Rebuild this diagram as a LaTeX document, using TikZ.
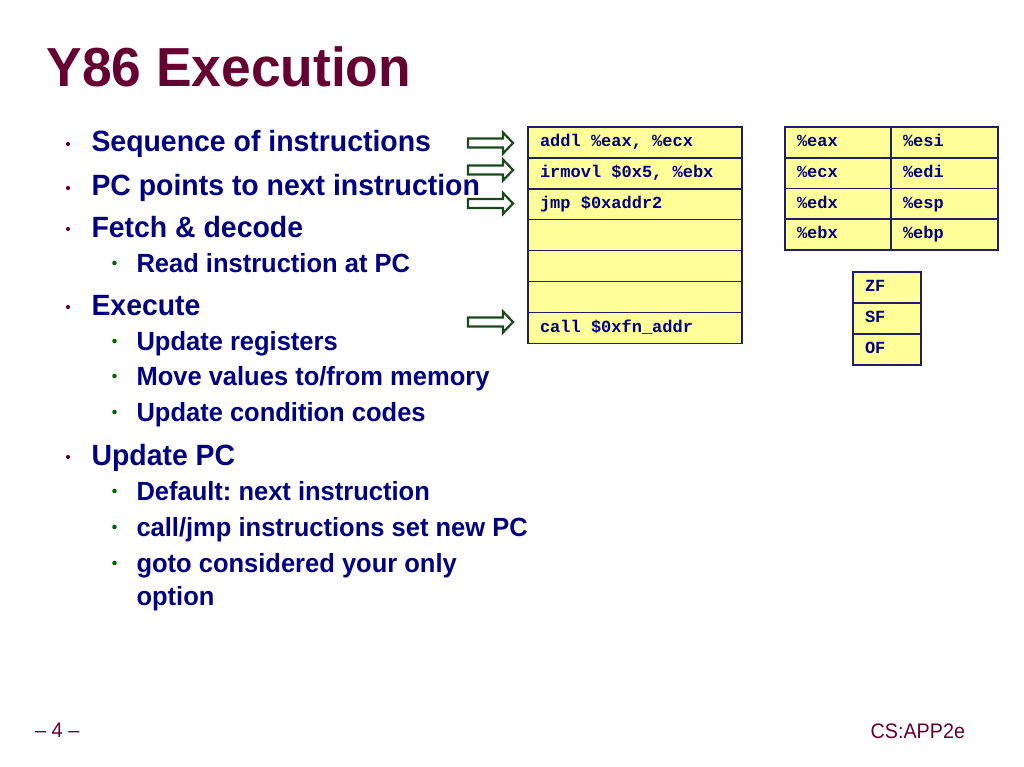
\documentclass[tikz,border=0pt]{standalone}
\usepackage{fontspec}
\usepackage{graphicx}
\setmainfont{Liberation Sans}
\newfontfamily\monof{Liberation Mono}
\usetikzlibrary{calc}
\definecolor{titlec}{HTML}{660033}
\definecolor{navyc}{HTML}{000080}
\definecolor{greenb}{HTML}{006600}
\definecolor{tabline}{HTML}{202060}
\definecolor{tabfill}{HTML}{FFFF99}
\definecolor{arrowc}{HTML}{1A4A1A}
\newcommand{\sx}[1]{\scalebox{0.97}[1]{#1}}
\newcommand{\msp}{\hbox to 0.6em{}}
\tikzset{
  txt/.style={anchor=base west, inner sep=0pt, outer sep=0pt},
  titletxt/.style={txt, text=titlec, font=\fontsize{55}{60}\selectfont\bfseries},
  lone/.style={txt, text=navyc, font=\fontsize{29.3}{32}\selectfont\bfseries},
  ltwo/.style={txt, text=navyc, font=\fontsize{26.3}{30}\selectfont\bfseries},
  foot/.style={inner sep=0pt, outer sep=0pt, text=titlec, font=\fontsize{21}{24}\selectfont},
  cell/.style={draw=tabline, line width=1.6pt, fill=tabfill, anchor=north west,
    inner xsep=12pt, inner ysep=0pt, outer sep=0pt, text height=12pt, text depth=3.5pt,
    align=left, text=navyc, font=\monof\bfseries\fontsize{17}{17}\selectfont},
  pcarrow/.style={draw=arrowc, line width=2.2pt, fill=white, line join=miter},
  dotone/.style={circle, fill=titlec, inner sep=0pt, minimum size=4.2pt},
  dottwo/.style={circle, fill=greenb, inner sep=0pt, minimum size=4.6pt},
}
\begin{document}
\frenchspacing
\begin{tikzpicture}[x=1pt,y=-1pt]
\useasboundingbox[fill=white] (0,0) rectangle (1024,767);

% title
\node[titletxt] (title) at (46.5,87) {\sx{Y86 Execution}};

% arrows (PC markers)
\foreach \y in {143,170,203.5,322}{
  \draw[pcarrow] (468,\y-4.5) -- (503,\y-4.5) -- (503,\y-10.5) -- (513,\y)
     -- (503,\y+10.5) -- (503,\y+4.5) -- (468,\y+4.5) -- cycle;
}

% level-one bullets
\node[dotone] (d1) at (68,144) {};
\node[dotone] (d2) at (68,188) {};
\node[dotone] (d3) at (68,229) {};
\node[dotone] (d4) at (68,307) {};
\node[dotone] (d5) at (68,457) {};
\node[lone] (b1) at (91.5,152) {\sx{Sequence of instructions}};
\node[lone] (b2) at (91.5,196) {\sx{PC points to next instruction}};
\node[lone] (b3) at (91.5,237) {\sx{Fetch \& decode}};
\node[lone] (b4) at (91.5,315) {\sx{Execute}};
\node[lone] (b5) at (91.5,465) {\sx{Update PC}};

% level-two bullets
\node[dottwo] (e1) at (114.5,263) {};
\node[dottwo] (e2) at (114.5,341) {};
\node[dottwo] (e3) at (114.5,376) {};
\node[dottwo] (e4) at (114.5,412) {};
\node[dottwo] (e5) at (114.5,491) {};
\node[dottwo] (e6) at (114.5,527) {};
\node[dottwo] (e7) at (114.5,563) {};
\node[ltwo] (s1) at (136.5,272) {\sx{Read instruction at PC}};
\node[ltwo] (s2) at (136.5,350) {\sx{Update registers}};
\node[ltwo] (s3) at (136.5,385) {\sx{Move values to/from memory}};
\node[ltwo] (s4) at (136.5,421) {\sx{Update condition codes}};
\node[ltwo] (s5) at (136.5,500) {\sx{Default: next instruction}};
\node[ltwo] (s6) at (136.5,536) {\sx{call/jmp instructions set new PC}};
\node[ltwo] (s7) at (136.5,572) {\sx{goto considered your only}};
\node[ltwo] (s8) at (136.5,605) {\sx{option}};

% memory
\begin{scope}[every node/.style={cell, text width=190pt, minimum height=30.9pt}]
\node (m0) at (528,127)   {addl\msp\%eax,\msp\%ecx};
\node (m1) at (528,157.9) {irmovl\msp\$0x5,\msp\%ebx};
\node (m2) at (528,188.8) {jmp\msp\$0xaddr2};
\node (m3) at (528,219.7) {};
\node (m4) at (528,250.6) {};
\node (m5) at (528,281.5) {};
\node (m6) at (528,312.4) {call\msp\$0xfn\_addr};
\end{scope}

% registers
\begin{scope}[every node/.style={cell, text width=82pt, minimum height=30.75pt}]
\node (r0) at (785,127)    {\%eax};
\node (r1) at (785,157.75) {\%ecx};
\node (r2) at (785,188.5)  {\%edx};
\node (r3) at (785,219.25) {\%ebx};
\end{scope}
\begin{scope}[every node/.style={cell, text width=83pt, minimum height=30.75pt}]
\node (r4) at (891,127)    {\%esi};
\node (r5) at (891,157.75) {\%edi};
\node (r6) at (891,188.5)  {\%esp};
\node (r7) at (891,219.25) {\%ebp};
\end{scope}

% condition codes
\begin{scope}[every node/.style={cell, text width=44pt, minimum height=31pt}]
\node (f0) at (853,272) {ZF};
\node (f1) at (853,303) {SF};
\node (f2) at (853,334) {OF};
\end{scope}

% footer
\node[foot, anchor=base west] (pg) at (35,737) {\scalebox{0.95}[1]{– 4 –}};
\node[foot, anchor=base east] (cs) at (965,738) {\scalebox{0.94}[1]{CS:APP2e}};
\end{tikzpicture}
\end{document}
